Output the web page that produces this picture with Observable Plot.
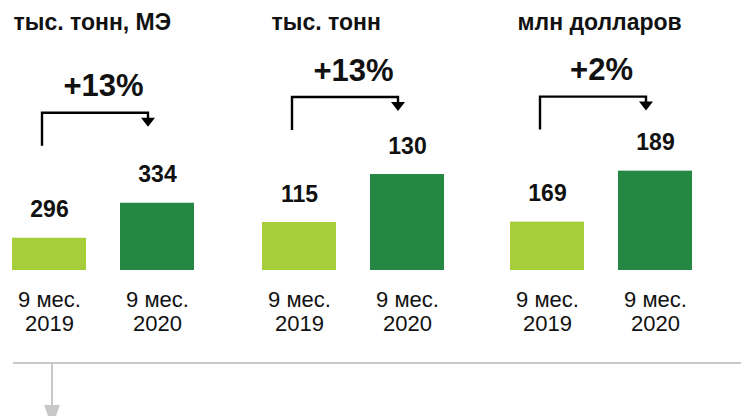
<!DOCTYPE html>
<html><head><meta charset="utf-8">
<script src="https://cdn.jsdelivr.net/npm/d3@7"></script>
<script src="https://cdn.jsdelivr.net/npm/@observablehq/plot@0.6"></script>
<style>
body{margin:0;background:#fff;font-family:"Liberation Sans",Arial,sans-serif;}
#wrap{position:relative;width:741px;height:416px;overflow:hidden;background:#fff;}
.panel{position:absolute;top:0;}
.hline{position:absolute;left:13px;top:362px;width:728px;height:2px;background:#c8c8c8;}
.vline{position:absolute;left:51px;top:363px;width:2px;height:43px;background:#c8c8c8;}
.tri{position:absolute;left:44px;top:405px;width:0;height:0;border-left:8px solid transparent;border-right:8px solid transparent;border-top:22px solid #c8c8c8;}
</style></head>
<body><div id="wrap"><div class="hline"></div><div class="vline"></div><div class="tri"></div></div>
<script>
// ---- data ----
const periods = ["9 мес.\n2019", "9 мес.\n2020"];
const titles = ["тыс. тонн, МЭ", "тыс. тонн", "млн долларов"];
const values2019 = [296, 115, 169];
const values2020 = [334, 130, 189];
const changes = ["+13%", "+13%", "+2%"];
const axisMin = [261, 100, 150];
const axisMax = [554, 184.4, 256];

// ---- layout ----
const panelLeft = [0, 250, 498];
const panelWidth = [250, 250, 243];
const titleDx = [1, 9, 7];
const colors = ["#a6cd3a", "#248842"];
const FONT = '"Liberation Sans", Arial, sans-serif';

function bracket(c1, c2, v1) {
  return (index, scales) => {
    const x = scales.x;
    let bw = 0;
    if (typeof x.bandwidth === "function") bw = x.bandwidth();
    else if (typeof x.bandwidth === "number") bw = x.bandwidth;
    const xa = x(c1) + bw / 2 - 7;
    const xb = x(c2) + bw / 2 - 9;
    const y0 = scales.y(v1);
    const yb = y0 - 92, yt = y0 - 125;
    const g = d3.create("svg:g");
    g.append("path")
      .attr("d", `M${xa},${yb}V${yt}H${xb}V${yt + 6}`)
      .attr("fill", "none").attr("stroke", "#000").attr("stroke-width", 2.4);
    g.append("path")
      .attr("d", `M${xb - 7},${yt + 5}L${xb + 7},${yt + 5}L${xb},${yt + 14}Z`)
      .attr("fill", "#000");
    return g.node();
  };
}

const wrap = document.getElementById("wrap");
for (let i = 0; i < 3; i++) {
  const data = [
    {period: periods[0], value: values2019[i]},
    {period: periods[1], value: values2020[i]}
  ];
  const W = panelWidth[i];
  const chart = Plot.plot({
    width: W,
    height: 340,
    marginLeft: 12,
    marginRight: W - 194,
    marginTop: 0,
    marginBottom: 70,
    style: {fontFamily: FONT, background: "transparent", color: "#111", overflow: "visible"},
    x: {domain: periods, paddingInner: 0.315, paddingOuter: 0, label: null},
    y: {domain: [axisMin[i], axisMax[i]], axis: null},
    color: {domain: periods, range: colors},
    marks: [
      Plot.barY(data, {x: "period", y1: axisMin[i], y2: "value", fill: "period"}),
      Plot.text(data, {x: "period", y: "value", text: d => String(d.value), dy: -21, lineAnchor: "bottom", fontSize: 23, fontWeight: "bold", fill: "#111"}),
      Plot.axisX({tickSize: 0, tickPadding: 19, fontSize: 22, lineHeight: 1.09, label: null}),
      Plot.text([titles[i]], {frameAnchor: "top-left", text: d => d, dx: titleDx[i], dy: 13, lineAnchor: "top", fontSize: 23, fontWeight: "bold", fill: "#111"}),
      Plot.text([changes[i]], {y: () => values2019[i], text: d => d, frameAnchor: "middle", dy: -142, lineAnchor: "bottom", fontSize: 31, fontWeight: "bold", fill: "#111"}),
      bracket(periods[0], periods[1], values2019[i])
    ]
  });
  chart.classList.add("panel");
  chart.style.left = panelLeft[i] + "px";
  wrap.appendChild(chart);
}
</script>
</body></html>
